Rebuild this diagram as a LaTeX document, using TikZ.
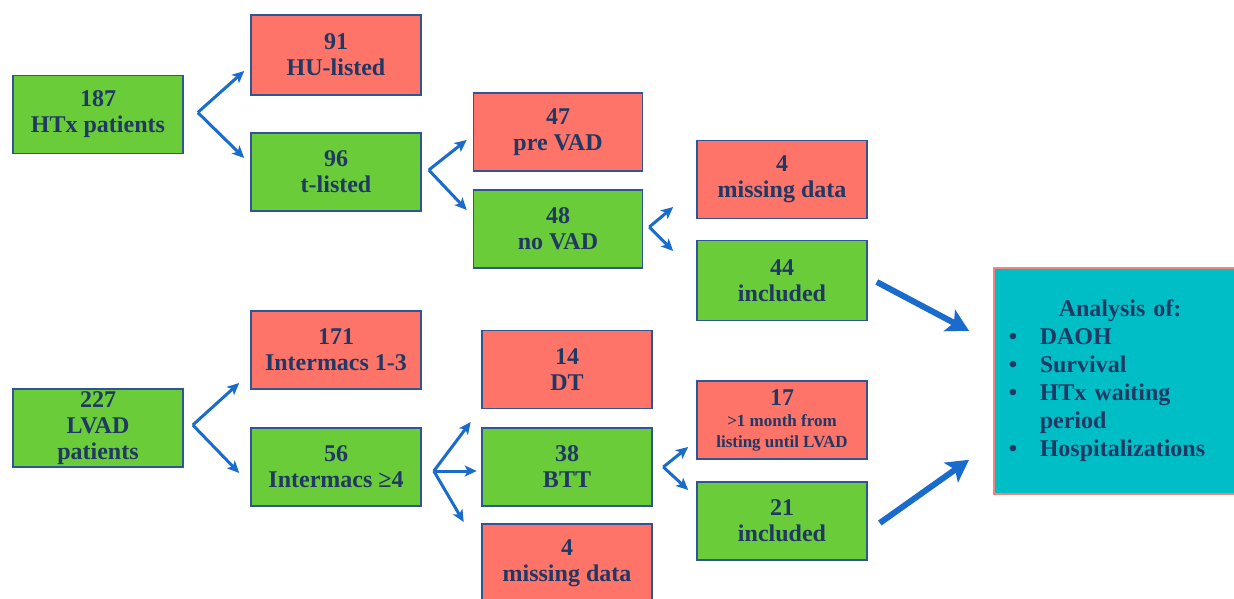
\documentclass[tikz,border=0pt]{standalone}
\usepackage{fontspec}
\setmainfont{Liberation Serif}
\usetikzlibrary{arrows.meta,calc}
\definecolor{gfill}{RGB}{106,204,57}
\definecolor{rfill}{RGB}{255,116,104}
\definecolor{bord}{RGB}{47,85,151}
\definecolor{txt}{RGB}{31,56,100}
\definecolor{arrc}{RGB}{26,108,204}
\definecolor{tealf}{RGB}{0,190,198}
\definecolor{tealb}{RGB}{244,133,122}
\newcommand{\smf}{\fontsize{17}{21}\selectfont}
\begin{document}
\begin{tikzpicture}[x=1pt,y=-1pt,
 box/.style={draw=bord, line width=1.6pt, minimum width=170pt, minimum height=78pt, inner sep=0pt, align=center, text=txt, font=\bfseries\fontsize{24}{26}\selectfont},
 gbox/.style={box, fill=gfill}, rbox/.style={box, fill=rfill},
 sarr/.style={draw=arrc, line width=3pt, -{Stealth[length=12pt,width=11pt,inset=3pt]}},
 barr/.style={draw=arrc, line width=6pt, -{Stealth[length=22pt,width=24pt,inset=5pt]}}]
\useasboundingbox (0,0) rectangle (1234,599);
\fill[white] (0,0) rectangle (1234,599);
\node[gbox] (htx) at (98,114.5) {187\\HTx patients};
\node[rbox, minimum height=80pt] (hu) at (336,55) {91\\HU-listed};
\node[gbox] (tl) at (336,172) {96\\t-listed};
\node[rbox, minimum width=169pt] (pre) at (558,132) {47\\pre VAD};
\node[gbox, minimum width=169pt] (novad) at (558,229) {48\\no VAD};
\node[rbox] (miss1) at (782,179.5) {4\\missing data};
\node[gbox, minimum height=80pt] (inc1) at (782,280.5) {44\\included};
\node[gbox] (lvad) at (98,428) {227\\LVAD\\patients};
\node[rbox] (im13) at (336,350) {171\\Intermacs 1-3};
\node[gbox] (im4) at (336,467) {56\\Intermacs ≥4};
\node[rbox] (dt) at (567,369.5) {14\\DT};
\node[gbox] (btt) at (567,467) {38\\BTT};
\node[rbox] (miss2) at (567,563) {4\\missing data};
\node[rbox] (m17) at (782,420) {17\\[-5pt]{\smf >1 month from}\\[-5pt]{\smf listing until LVAD}};
\node[gbox] (inc2) at (782,521) {21\\included};
\node[draw=tealb, fill=tealf, line width=1.6pt, minimum width=252pt, minimum height=226pt, anchor=north west, inner xsep=14pt, text width=222pt, align=left, text=txt, font=\bfseries\fontsize{24}{28}\selectfont] (ana) at (993,267)
 {\hspace*{50pt}Analysis of:\\
  \makebox[31pt][l]{•}DAOH\\
  \makebox[31pt][l]{•}Survival\\
  \makebox[31pt][l]{•}HTx waiting\\
  \hspace*{31pt}period\\
  \makebox[31pt][l]{•}Hospitalizations};
% branch connectors
\coordinate (v1) at ($(htx.east)+(14,-2)$);
\draw[sarr] (v1) -- ($(hu.west)+(-6,16)$);
\draw[sarr] (v1) -- ($(tl.west)+(-6,-14)$);
\coordinate (v2) at ($(tl.east)+(7,-2)$);
\draw[sarr] (v2) -- ($(pre.west)+(-6,8)$);
\draw[sarr] (v2) -- ($(novad.west)+(-6,-19)$);
\coordinate (v3) at ($(novad.east)+(6,-2)$);
\draw[sarr] (v3) -- ($(miss1.west)+(-23,27.5)$);
\draw[sarr] (v3) -- ($(inc1.west)+(-23,-29.5)$);
\coordinate (v4) at ($(lvad.east)+(9,-3)$);
\draw[sarr] (v4) -- ($(im13.west)+(-11,33)$);
\draw[sarr] (v4) -- ($(im4.west)+(-11,6)$);
\coordinate (v5) at ($(im4.east)+(12,4)$);
\draw[sarr] (v5) -- ($(dt.west)+(-10.5,52.5)$);
\draw[sarr] (v5) -- ($(btt.west)+(-4.5,4)$);
\draw[sarr] (v5) -- ($(miss2.west)+(-17.5,-41)$);
\coordinate (v6) at ($(btt.east)+(10.5,0)$);
\draw[sarr] (v6) -- ($(m17.west)+(-8,27)$);
\draw[sarr] (v6) -- ($(inc2.west)+(-8,-31)$);
% big arrows
\draw[barr] ($(inc1.east)+(9,1.5)$) -- ($(ana.west)+(-24,-50)$);
\draw[barr] ($(inc2.east)+(12,2)$) -- ($(ana.west)+(-24,79)$);
\end{tikzpicture}
\end{document}
